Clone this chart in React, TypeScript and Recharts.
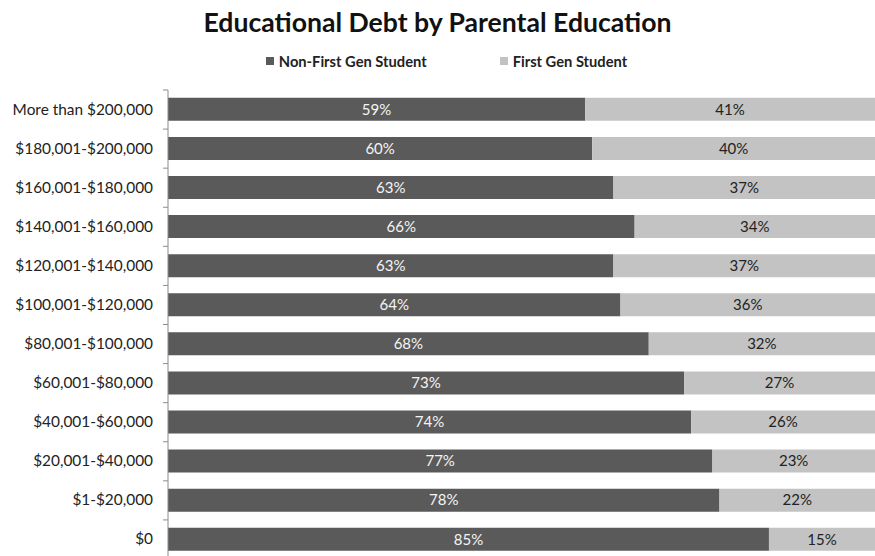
import * as React from "react";
import { Bar, BarChart, LabelList, Legend, XAxis, YAxis } from "recharts";

const categories = [
  "More than $200,000",
  "$180,001-$200,000",
  "$160,001-$180,000",
  "$140,001-$160,000",
  "$120,001-$140,000",
  "$100,001-$120,000",
  "$80,001-$100,000",
  "$60,001-$80,000",
  "$40,001-$60,000",
  "$20,001-$40,000",
  "$1-$20,000",
  "$0",
];
const nonFirstGen = [59, 60, 63, 66, 63, 64, 68, 73, 74, 77, 78, 85];
const firstGen = [41, 40, 37, 34, 37, 36, 32, 27, 26, 23, 22, 15];

const data = categories.map((range, i) => ({
  range,
  nonFirst: nonFirstGen[i],
  first: firstGen[i],
}));

const FONT = "Lato, 'Open Sans', sans-serif";
const DARK = "#5a5a5a";
const LIGHT = "#c3c3c3";
const AXIS = "#8c8c8c";

const CHART_H = 562;
const TOP = 70;
const BOTTOM = 3;
const LEGEND_H = 20;

// Excel puts the ticks between categories, so draw them by hand
function CategoryTick(props: any) {
  const { y, payload, index } = props;
  const plotH = CHART_H - TOP - LEGEND_H - BOTTOM;
  const band = plotH / categories.length;
  const axisX = 168;
  return (
    <g>
      <text
        x={153}
        y={y}
        dy={5}
        textAnchor="end"
        fontSize={15.4}
        fontFamily={FONT}
        fill="#222"
      >
        {payload.value}
      </text>
      <line x1={axisX - 5} x2={axisX} y1={y - band / 2} y2={y - band / 2} stroke={AXIS} />
      {index === categories.length - 1 && (
        <line x1={axisX - 5} x2={axisX} y1={y + band / 2} y2={y + band / 2} stroke={AXIS} />
      )}
    </g>
  );
}

function LegendContent() {
  const items = [
    { label: "Non-First Gen Student", color: DARK },
    { label: "First Gen Student", color: LIGHT },
  ];
  return (
    <div
      style={{
        display: "flex",
        justifyContent: "center",
        gap: 73,
        fontFamily: FONT,
        fontWeight: 700,
        fontSize: 14.7,
        color: "#222",
        paddingLeft: 18,
      }}
    >
      {items.map((it) => (
        <div key={it.label} style={{ display: "flex", alignItems: "center", gap: 5 }}>
          <span style={{ width: 8, height: 8, background: it.color, display: "inline-block" }} />
          {it.label}
        </div>
      ))}
    </div>
  );
}

export default function App() {
  return (
    <div
      style={{
        position: "absolute",
        left: 0,
        top: 0,
        width: 875,
        height: 556,
        overflow: "hidden",
        background: "#fff",
      }}
    >
      <div
        style={{
          position: "absolute",
          top: 6,
          left: 0,
          width: 875,
          textAlign: "center",
          fontFamily: FONT,
          fontWeight: 700,
          fontSize: 26.6,
          color: "#111",
        }}
      >
        Educational Debt by Parental Education
      </div>
      <BarChart
        width={875}
        height={CHART_H}
        data={data}
        layout="vertical"
        margin={{ top: TOP, right: 0, bottom: BOTTOM, left: 0 }}
        barCategoryGap="20%"
      >
        <Legend
          verticalAlign="top"
          height={LEGEND_H}
          content={<LegendContent />}
          wrapperStyle={{ top: 52 }}
        />
        <XAxis type="number" domain={[0, 100]} hide />
        <YAxis
          type="category"
          dataKey="range"
          width={168}
          axisLine={{ stroke: AXIS }}
          tickLine={false}
          tick={<CategoryTick />}
          interval={0}
        />
        <Bar dataKey="nonFirst" stackId="a" fill={DARK} isAnimationActive={false}>
          <LabelList
            dataKey="nonFirst"
            position="center"
            formatter={(v: any) => `${v}%`}
            fill="#f4f4f4"
            fontSize={15}
            fontFamily={FONT}
          />
        </Bar>
        <Bar dataKey="first" stackId="a" fill={LIGHT} isAnimationActive={false}>
          <LabelList
            dataKey="first"
            position="center"
            formatter={(v: any) => `${v}%`}
            fill="#222"
            fontSize={15}
            fontFamily={FONT}
          />
        </Bar>
      </BarChart>
    </div>
  );
}
